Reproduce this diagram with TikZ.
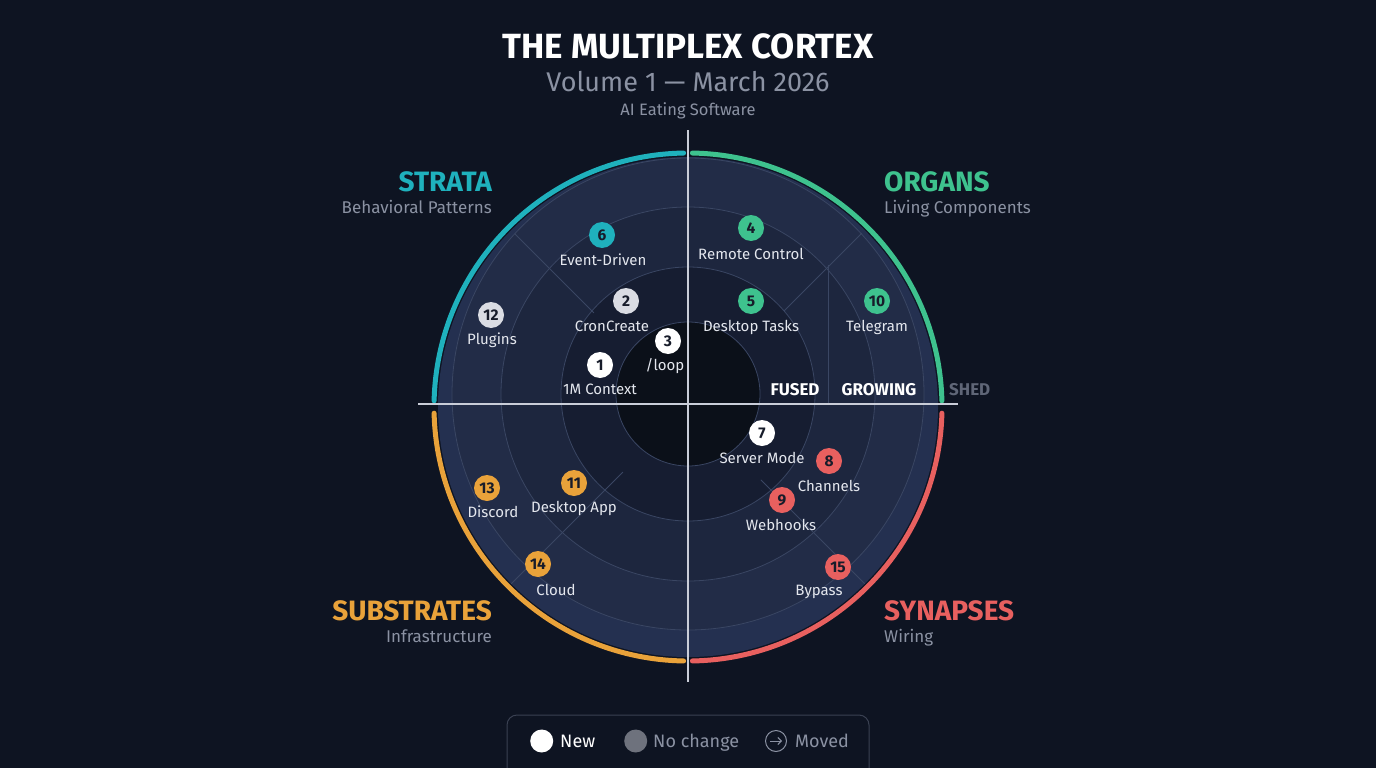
\documentclass[tikz,border=0pt]{standalone}
\usepackage{fontspec}
\setmainfont{Fira Sans}
\usetikzlibrary{positioning,arrows.meta}
\definecolor{bgnavy}{HTML}{0E1422}
\definecolor{bandE}{HTML}{243050}
\definecolor{bandD}{HTML}{222C47}
\definecolor{bandC}{HTML}{1D263E}
\definecolor{bandB}{HTML}{161D31}
\definecolor{bandA}{HTML}{0B1019}
\definecolor{ringline}{HTML}{3A4663}
\definecolor{axisline}{HTML}{C9CDD8}
\definecolor{stratacol}{HTML}{1FB1BD}
\definecolor{organcol}{HTML}{3EC28E}
\definecolor{substcol}{HTML}{E9A23A}
\definecolor{synapcol}{HTML}{E8605F}
\definecolor{newcol}{HTML}{FFFFFF}
\definecolor{oldcol}{HTML}{DADCE3}
\definecolor{blipink}{HTML}{171C2A}
\definecolor{lbltext}{HTML}{E4E7EE}
\definecolor{subgray}{HTML}{8B92A3}
\definecolor{shedgray}{HTML}{5F6677}
\definecolor{keygray}{HTML}{6E727D}
\definecolor{keyline}{HTML}{3A4152}
\begin{document}
\begin{tikzpicture}[x=1pt,y=-1pt,
    blip/.style={circle, fill=#1, text=blipink, inner sep=0pt,
      minimum size=26pt, font=\fontsize{15.5}{15.5}\selectfont\bfseries},
    lbl/.style={text=lbltext, inner sep=0pt,
      font=\fontsize{15}{15}\selectfont},
    quad/.style={inner sep=0pt, font=\fontsize{28}{28}\selectfont\bfseries},
    quadsub/.style={inner sep=0pt, text=subgray,
      font=\fontsize{17}{17}\selectfont},
    band/.style={inner sep=0pt, font=\fontsize{17}{17}\selectfont\bfseries},
    ring/.style={draw=ringline, line width=0.8pt},
    rim/.style={line width=5pt, line cap=round}]
  \useasboundingbox (0,0) rectangle (1376,768);
  \fill[bgnavy] (0,0) rectangle (1376,768);
  \coordinate (hub) at (688,407); \coordinate (ctr) at (688,394);
  \fill[bandE] (hub) circle[radius=250pt];
  \fill[bandD] (ctr) circle[radius=236pt];
  \fill[bandC] (ctr) circle[radius=187pt];
  \fill[bandB] (ctr) circle[radius=127pt];
  \fill[bandA] (ctr) circle[radius=72pt];
  \foreach \r in {72,127,187,236} {\draw[ring] (ctr) circle[radius=\r pt];}
  \draw[ring] (hub) ++(135:133pt) -- ++(135:112pt);
  \draw[ring] (hub) ++(45:136pt) -- ++(45:110pt);
  \draw[ring] (hub) ++(225:92pt) -- ++(225:158pt);
  \draw[ring] (hub) ++(315:103pt) -- ++(315:147pt);
  \draw[ring] (828,265) -- (828,404);
  \begin{scope}[rim]
    \draw[stratacol] (hub) ++(91:254pt) arc[start angle=91, end angle=178.6, radius=254pt];
    \draw[organcol] (hub) ++(1.4:254pt) arc[start angle=1.4, end angle=89, radius=254pt];
    \draw[substcol] (hub) ++(181.4:254pt) arc[start angle=181.4, end angle=269, radius=254pt];
    \draw[synapcol] (hub) ++(271:254pt) arc[start angle=271, end angle=358.6, radius=254pt];
  \end{scope}
  \draw[axisline, line width=1.2pt] (688,130) -- (688,682);
  \draw[axisline, line width=1.2pt] (418,404) -- (958,404);

  \node[text=white, font=\fontsize{35}{35}\selectfont\bfseries] (title) at (688,46) {THE MULTIPLEX CORTEX};
  \node[text=subgray, font=\fontsize{27}{27}\selectfont] (vol) at (688,82) {Volume 1 — March 2026};
  \node[text=subgray, font=\fontsize{16.5}{16.5}\selectfont] (tag) at (688,111) {AI Eating Software};

  \node[quad, text=stratacol, anchor=east] (strata) at (492,182) {STRATA};
  \node[quadsub, anchor=base east] (stratasub) at (492,213) {Behavioral Patterns};
  \node[quad, text=organcol, anchor=west] (organs) at (884,182) {ORGANS};
  \node[quadsub, anchor=base west] (organsub) at (884,213) {Living Components};
  \node[quad, text=substcol, anchor=east] (subst) at (492,611) {SUBSTRATES};
  \node[quadsub, anchor=base east] (substsub) at (492,642) {Infrastructure};
  \node[quad, text=synapcol, anchor=west] (synap) at (884,611) {SYNAPSES};
  \node[quadsub, anchor=base west] (synapsub) at (884,642) {Wiring};

  \node[band, text=white] (fused) at (795,390) {FUSED};
  \node[band, text=white] (growing) at (879,390) {GROWING};
  \node[band, text=shedgray, anchor=west] (shed) at (949,390) {SHED};

  \node[blip=newcol] (b1) at (600,365) {1}; \node[lbl] (l1) at (600,389) {1M Context};
  \node[blip=oldcol] (b2) at (626,301) {2}; \node[lbl] (l2) at (612,326) {CronCreate};
  \node[blip=newcol] (b3) at (668,341) {3}; \node[lbl] (l3) at (665,366) {/loop};
  \node[blip=organcol] (b4) at (751,228) {4}; \node[lbl] (l4) at (751,254) {Remote Control};
  \node[blip=organcol] (b5) at (751,301) {5}; \node[lbl] (l5) at (751,327) {Desktop Tasks};
  \node[blip=stratacol] (b6) at (602,235) {6}; \node[lbl] (l6) at (603,260) {Event-Driven};
  \node[blip=newcol] (b7) at (762,433) {7}; \node[lbl] (l7) at (762,458) {Server Mode};
  \node[blip=synapcol] (b8) at (829,461) {8}; \node[lbl] (l8) at (829,486) {Channels};
  \node[blip=synapcol] (b9) at (782,500) {9}; \node[lbl] (l9) at (781,525) {Webhooks};
  \node[blip=organcol] (b10) at (877,301) {10}; \node[lbl] (l10) at (877,327) {Telegram};
  \node[blip=substcol] (b11) at (574,483) {11}; \node[lbl] (l11) at (574,508) {Desktop App};
  \node[blip=oldcol] (b12) at (491,315) {12}; \node[lbl] (l12) at (492,340) {Plugins};
  \node[blip=substcol] (b13) at (487,488) {13}; \node[lbl] (l13) at (493,512) {Discord};
  \node[blip=substcol] (b14) at (538,564) {14}; \node[lbl] (l14) at (556,590) {Cloud};
  \node[blip=synapcol] (b15) at (838,567) {15}; \node[lbl] (l15) at (819,592) {Bypass};

  \draw[keyline, line width=1pt, rounded corners=10pt] (507,715) rectangle (869,800);
  \begin{scope}[every node/.style={inner sep=0pt, anchor=base west,
      font=\fontsize{18}{18}\selectfont}]
    \node[circle, fill=white, minimum size=23pt, anchor=west] (knew) at (530,741) {};
    \node[text=white] (tnew) at (560,747.5) {New};
    \node[circle, fill=keygray, minimum size=23pt, anchor=west] (kold) at (624,741) {};
    \node[text=subgray] (told) at (653,747.5) {No change};
    \node[circle, draw=subgray, line width=1pt, minimum size=21pt, anchor=west] (kmove) at (765,741) {};
    \node[text=subgray] (tmove) at (795,747.5) {Moved};
  \end{scope}
  \draw[subgray, line width=1pt, -{Straight Barb[length=3.5pt,width=7pt]}]
    ([xshift=-6pt]kmove.center) -- ([xshift=6pt]kmove.center);
\end{tikzpicture}
\end{document}
